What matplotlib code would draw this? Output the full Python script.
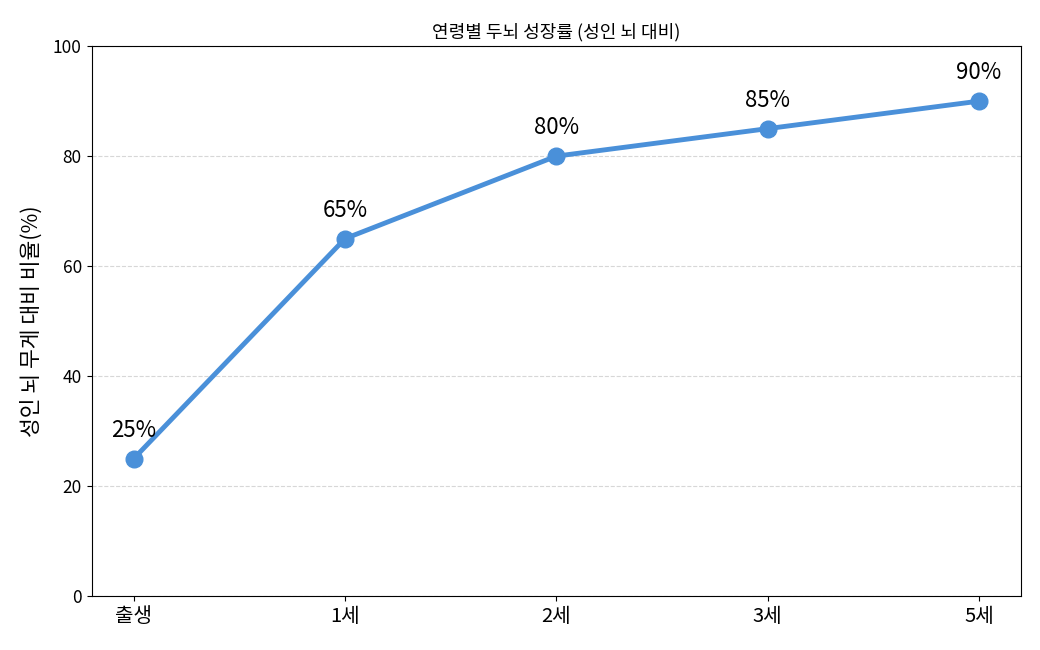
import matplotlib.pyplot as plt

plt.rcParams['font.family'] = ['Noto Sans CJK KR', 'DejaVu Sans']

ages = ["출생", "1세", "2세", "3세", "5세"]
ratios = [25, 65, 80, 85, 90]

fig, ax = plt.subplots(figsize=(10.4, 6.5), dpi=100)
fig.subplots_adjust(left=0.088, right=0.982, top=0.929, bottom=0.083)

x = list(range(len(ages)))
ax.plot(x, ratios, color="#4a90d9", linewidth=3.5, marker="o", markersize=12)
for xi, v in zip(x, ratios):
    ax.annotate(f"{v}%", (xi, v), textcoords="offset points", xytext=(0, 12),
                ha="center", va="bottom", fontsize=16)

ax.set_xticks(x)
ax.set_xticklabels(ages, fontsize=14.5)
ax.set_ylim(0, 100)
ax.tick_params(axis="y", labelsize=12.5)
ax.set_ylabel("성인 뇌 무게 대비 비율(%)", fontsize=15.5, labelpad=7)
ax.set_title("연령별 두뇌 성장률 (성인 뇌 대비)", fontsize=13)
ax.grid(axis="y", linestyle="--", alpha=0.5)

fig.savefig("out.png", dpi=100)
